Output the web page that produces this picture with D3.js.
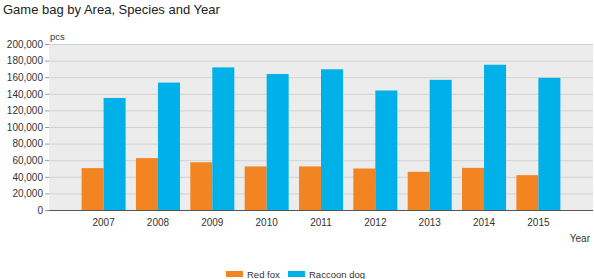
<!DOCTYPE html>
<html>
<head>
<meta charset="utf-8">
<script src="https://cdn.jsdelivr.net/npm/d3@7"></script>
<style>
  body { margin: 0; background: #fff; }
  text { font-family: "Liberation Sans", Arial, sans-serif; }
</style>
</head>
<body>
<div id="chart"></div>
<script>
const years = ["2007","2008","2009","2010","2011","2012","2013","2014","2015"];
const seriesNames = ["Red fox", "Raccoon dog"];
const redFox = [50500, 62500, 57500, 52500, 52500, 50000, 46000, 50800, 42000];
const raccoonDog = [135000, 153500, 171800, 163800, 169500, 144000, 156800, 175000, 159200];
const yTicks = [0, 20000, 40000, 60000, 80000, 100000, 120000, 140000, 160000, 180000, 200000];
const colors = ["#f28522", "#00b1e9"];

const width = 594, height = 279;
const margin = {top: 44, right: 1, bottom: 69, left: 49};

const svg = d3.select("#chart").append("svg")
  .attr("width", width)
  .attr("height", height);

const x = d3.scaleBand()
  .domain(years)
  .range([margin.left, width - margin.right])
  .paddingInner(0.19)
  .paddingOuter(0.6);

const xSub = d3.scaleBand()
  .domain(seriesNames)
  .range([0, x.bandwidth()]);

const y = d3.scaleLinear()
  .domain([0, 200000])
  .range([height - margin.bottom, margin.top]);

// plot background
svg.append("rect")
  .attr("x", margin.left)
  .attr("y", margin.top)
  .attr("width", width - margin.right - margin.left)
  .attr("height", height - margin.bottom - margin.top)
  .attr("fill", "#ececec");

// y axis with gridlines
const yAxis = svg.append("g")
  .attr("transform", `translate(${margin.left},0)`)
  .call(d3.axisLeft(y)
    .tickValues(yTicks)
    .tickFormat(d3.format(","))
    .tickSize(-(width - margin.right - margin.left))
    .tickPadding(6));
yAxis.select(".domain").remove();
yAxis.selectAll(".tick line").attr("stroke", "#d2d2d2");
yAxis.selectAll(".tick text")
  .attr("fill", "#333")
  .style("font-size", "10px");
// small outer tick marks
yAxis.selectAll(".tick").append("line")
  .attr("x1", -4).attr("x2", 0)
  .attr("stroke", "#999");

// bars
const data = years.map((yr, i) => ({year: yr, values: [redFox[i], raccoonDog[i]]}));

svg.append("g")
  .selectAll("g")
  .data(data)
  .join("g")
  .attr("transform", d => `translate(${x(d.year)},0)`)
  .selectAll("rect")
  .data(d => d.values.map((v, j) => ({name: seriesNames[j], value: v, idx: j})))
  .join("rect")
  .attr("x", d => xSub(d.name))
  .attr("width", xSub.bandwidth())
  .attr("y", d => y(d.value))
  .attr("height", d => y(0) - y(d.value))
  .attr("fill", d => colors[d.idx]);

// x axis
const xAxis = svg.append("g")
  .attr("transform", `translate(0,${height - margin.bottom})`)
  .call(d3.axisBottom(x).tickSize(0).tickPadding(9));
xAxis.select(".domain")
  .attr("stroke", "#555")
  .attr("d", `M${margin.left},0.5H${width - margin.right}`);
xAxis.selectAll(".tick text")
  .attr("fill", "#333")
  .style("font-size", "10px");

// title and axis labels
svg.append("text")
  .attr("x", 3)
  .attr("y", 14)
  .attr("fill", "#222")
  .style("font-size", "13px")
  .text("Game bag by Area, Species and Year");

svg.append("text")
  .attr("x", 50)
  .attr("y", 40)
  .attr("fill", "#333")
  .style("font-size", "9.5px")
  .text("pcs");

svg.append("text")
  .attr("x", 590)
  .attr("y", 242)
  .attr("text-anchor", "end")
  .attr("fill", "#333")
  .style("font-size", "10px")
  .text("Year");

// legend
const legendX = [226, 288];
const legend = svg.append("g")
  .selectAll("g")
  .data(seriesNames)
  .join("g")
  .attr("transform", (d, i) => `translate(${legendX[i]},271)`);
legend.append("rect")
  .attr("width", 17)
  .attr("height", 6)
  .attr("fill", (d, i) => colors[i]);
legend.append("text")
  .attr("x", 21)
  .attr("y", 7)
  .attr("fill", "#333")
  .style("font-size", "9.5px")
  .text(d => d);
</script>
</body>
</html>
